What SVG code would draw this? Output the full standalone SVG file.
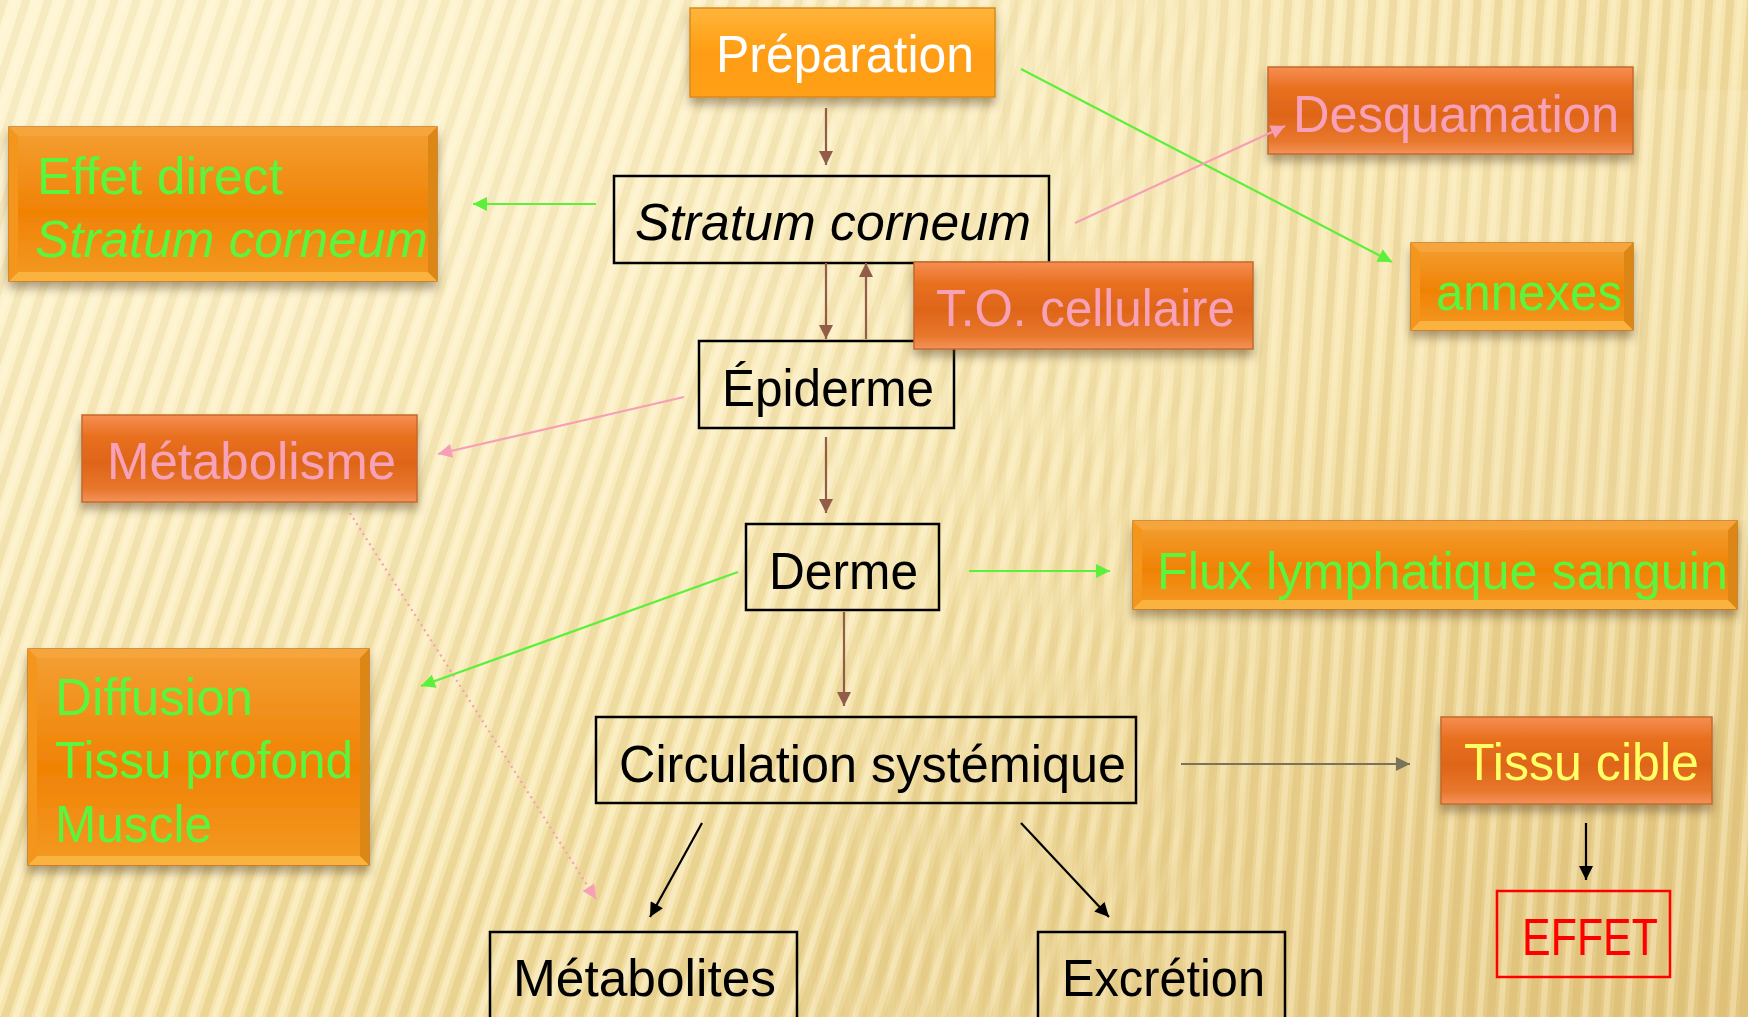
<svg xmlns="http://www.w3.org/2000/svg" width="1748" height="1017" viewBox="0 0 1748 1017">
<defs>
  <linearGradient id="bg" x1="0" y1="0" x2="1" y2="1">
    <stop offset="0" stop-color="#fdf2cb"/>
    <stop offset="0.55" stop-color="#f6e4ac"/>
    <stop offset="1" stop-color="#e3c680"/>
  </linearGradient>
  <pattern id="stripes" width="21" height="40" patternUnits="userSpaceOnUse" patternTransform="rotate(18)">
    <rect x="0" y="0" width="8" height="40" fill="#d8bb6c" opacity="0.34"/>
    <rect x="11" y="0" width="6" height="40" fill="#fff8dc" opacity="0.45"/>
  </pattern>
  <pattern id="stripesV" width="21" height="40" patternUnits="userSpaceOnUse" patternTransform="rotate(4)">
    <rect x="0" y="0" width="8" height="40" fill="#cfb060" opacity="0.28"/>
    <rect x="11" y="0" width="6" height="40" fill="#fff6d6" opacity="0.35"/>
  </pattern>
  <linearGradient id="fadeR" x1="0" y1="0" x2="1" y2="0">
    <stop offset="0" stop-color="#fff" stop-opacity="1"/>
    <stop offset="0.45" stop-color="#fff" stop-opacity="1"/>
    <stop offset="0.75" stop-color="#fff" stop-opacity="0"/>
  </linearGradient>
  <linearGradient id="fadeL" x1="0" y1="0" x2="1" y2="0">
    <stop offset="0.4" stop-color="#fff" stop-opacity="0"/>
    <stop offset="0.75" stop-color="#fff" stop-opacity="1"/>
  </linearGradient>
  <mask id="mL"><rect width="1748" height="1017" fill="url(#fadeR)"/></mask>
  <mask id="mR"><rect width="1748" height="1017" fill="url(#fadeL)"/></mask>
  <radialGradient id="glow" cx="0.15" cy="0.1" r="0.8">
    <stop offset="0" stop-color="#fff8dc" stop-opacity="0.55"/>
    <stop offset="1" stop-color="#fff8dc" stop-opacity="0"/>
  </radialGradient>

  <linearGradient id="gAin" x1="0" y1="0" x2="0" y2="1">
    <stop offset="0" stop-color="#f3a035"/>
    <stop offset="0.55" stop-color="#f08204"/>
    <stop offset="1" stop-color="#f39a24"/>
  </linearGradient>
  <linearGradient id="gP" x1="0" y1="0" x2="0" y2="1">
    <stop offset="0" stop-color="#ffb53c"/>
    <stop offset="0.5" stop-color="#ff9d12"/>
    <stop offset="1" stop-color="#ffa01a"/>
  </linearGradient>
  <linearGradient id="gB" x1="0" y1="0" x2="0" y2="1">
    <stop offset="0" stop-color="#f68e52"/>
    <stop offset="0.25" stop-color="#e8701f"/>
    <stop offset="0.55" stop-color="#de6518"/>
    <stop offset="0.85" stop-color="#e8772d"/>
    <stop offset="1" stop-color="#f4935a"/>
  </linearGradient>
  <filter id="sh" x="-10%" y="-20%" width="120%" height="150%">
    <feDropShadow dx="0" dy="7" stdDeviation="5" flood-color="#5a4020" flood-opacity="0.45"/>
  </filter>

  <marker id="aBrown" viewBox="0 0 10 10" refX="10" refY="5" markerWidth="16" markerHeight="14" markerUnits="userSpaceOnUse" orient="auto"><path d="M0,0 L10,5 L0,10 z" fill="#915c48"/></marker>
  <marker id="aGreen" viewBox="0 0 10 10" refX="10" refY="5" markerWidth="16" markerHeight="14" markerUnits="userSpaceOnUse" orient="auto"><path d="M0,0 L10,5 L0,10 z" fill="#5cf03a"/></marker>
  <marker id="aPink" viewBox="0 0 10 10" refX="10" refY="5" markerWidth="16" markerHeight="14" markerUnits="userSpaceOnUse" orient="auto"><path d="M0,0 L10,5 L0,10 z" fill="#f79fb6"/></marker>
  <marker id="aGray" viewBox="0 0 10 10" refX="10" refY="5" markerWidth="16" markerHeight="14" markerUnits="userSpaceOnUse" orient="auto"><path d="M0,0 L10,5 L0,10 z" fill="#7a735c"/></marker>
  <marker id="aBlack" viewBox="0 0 10 10" refX="10" refY="5" markerWidth="16" markerHeight="14" markerUnits="userSpaceOnUse" orient="auto"><path d="M0,0 L10,5 L0,10 z" fill="#000"/></marker>
</defs>
<style>
  text { font-family: "Liberation Sans", Arial, sans-serif; font-size: 52px; }
  .w { fill: #ffffff; }
  .g { fill: #5cf53e; }
  .p { fill: #f8a2ba; }
  .y { fill: #ffff66; }
  .k { fill: #000000; }
  .r { fill: #ff0000; }
  .it { font-style: italic; }
  .bx { fill: none; stroke: #000; stroke-width: 2.5; }
  .bA { fill: url(#gAin); stroke: #c7771a; stroke-width: 1.5; }
  .bt { fill: #f6a53e; }
  .bb { fill: #fbb340; }
  .bl { fill: #f5961e; }
  .br { fill: #dc8614; }
  .bB { fill: url(#gB); stroke: #c46a2a; stroke-width: 1.5; }
  .cn { fill: none; stroke-width: 2.2; }
</style>

<!-- background -->
<rect width="1748" height="1017" fill="url(#bg)"/>
<rect width="1748" height="1017" fill="url(#stripes)" mask="url(#mL)"/>
<rect width="1748" height="1017" fill="url(#stripesV)" mask="url(#mR)"/>
<rect width="1748" height="1017" fill="url(#glow)"/>
<rect x="1400" y="90" width="348" height="430" fill="#fff5d0" opacity="0.18"/>

<!-- nodes -->
<g id="preparation" filter="url(#sh)">
  <rect x="690" y="8" width="305" height="89" fill="url(#gP)" stroke="#d98c1a" stroke-width="1.5"/>
  <text class="w" x="716" y="72" textLength="258" lengthAdjust="spacingAndGlyphs">Préparation</text>
</g>
<g id="stratum-corneum">
  <rect class="bx" x="614" y="176" width="435" height="87"/>
  <text class="k it" x="635" y="240" textLength="396" lengthAdjust="spacingAndGlyphs">Stratum corneum</text>
</g>
<g id="desquamation" filter="url(#sh)">
  <rect class="bB" x="1268" y="67" width="365" height="87"/>
  <text class="p" x="1293" y="132" textLength="326" lengthAdjust="spacingAndGlyphs">Desquamation</text>
</g>
<g id="effet-direct" filter="url(#sh)">
  <rect class="bA" x="9" y="127" width="428" height="154"/>
  <polygon class="bt" points="9,127 437,127 428,136 18,136"/>
  <polygon class="bb" points="9,281 437,281 428,272 18,272"/>
  <polygon class="bl" points="9,127 18,136 18,272 9,281"/>
  <polygon class="br" points="437,127 428,136 428,272 437,281"/>
  <text class="g" x="37" y="194" textLength="246" lengthAdjust="spacingAndGlyphs">Effet direct</text>
  <text class="g it" x="35" y="257" textLength="393" lengthAdjust="spacingAndGlyphs">Stratum corneum</text>
</g>
<g id="annexes" filter="url(#sh)">
  <rect class="bA" x="1411" y="243" width="222" height="87"/>
  <polygon class="bt" points="1411,243 1633,243 1624,252 1420,252"/>
  <polygon class="bb" points="1411,330 1633,330 1624,321 1420,321"/>
  <polygon class="bl" points="1411,243 1420,252 1420,321 1411,330"/>
  <polygon class="br" points="1633,243 1624,252 1624,321 1633,330"/>
  <text class="g" x="1436" y="310" textLength="186" lengthAdjust="spacingAndGlyphs">annexes</text>
</g>
<g id="epiderme">
  <rect class="bx" x="699" y="341" width="255" height="87"/>
  <text class="k" x="722" y="406" textLength="212" lengthAdjust="spacingAndGlyphs">Épiderme</text>
</g>
<g id="to-cellulaire" filter="url(#sh)">
  <rect class="bB" x="914" y="262" width="339" height="87"/>
  <text class="p" x="936" y="326" textLength="299" lengthAdjust="spacingAndGlyphs">T.O. cellulaire</text>
</g>
<g id="metabolisme" filter="url(#sh)">
  <rect class="bB" x="82" y="415" width="335" height="87"/>
  <text class="p" x="107" y="479" textLength="289" lengthAdjust="spacingAndGlyphs">Métabolisme</text>
</g>
<g id="derme">
  <rect class="bx" x="746" y="524" width="193" height="86"/>
  <text class="k" x="769" y="589" textLength="149" lengthAdjust="spacingAndGlyphs">Derme</text>
</g>
<g id="flux" filter="url(#sh)">
  <rect class="bA" x="1133" y="521" width="604" height="88"/>
  <polygon class="bt" points="1133,521 1737,521 1728,530 1142,530"/>
  <polygon class="bb" points="1133,609 1737,609 1728,600 1142,600"/>
  <polygon class="bl" points="1133,521 1142,530 1142,600 1133,609"/>
  <polygon class="br" points="1737,521 1728,530 1728,600 1737,609"/>
  <text class="g" x="1157" y="589" textLength="571" lengthAdjust="spacingAndGlyphs">Flux lymphatique sanguin</text>
</g>
<g id="diffusion" filter="url(#sh)">
  <rect class="bA" x="28" y="649" width="341" height="216"/>
  <polygon class="bt" points="28,649 369,649 360,658 37,658"/>
  <polygon class="bb" points="28,865 369,865 360,856 37,856"/>
  <polygon class="bl" points="28,649 37,658 37,856 28,865"/>
  <polygon class="br" points="369,649 360,658 360,856 369,865"/>
  <text class="g" x="55" y="715" textLength="198" lengthAdjust="spacingAndGlyphs">Diffusion</text>
  <text class="g" x="55" y="778" textLength="298" lengthAdjust="spacingAndGlyphs">Tissu profond</text>
  <text class="g" x="55" y="842" textLength="157" lengthAdjust="spacingAndGlyphs">Muscle</text>
</g>
<g id="circulation">
  <rect class="bx" x="596" y="717" width="540" height="86"/>
  <text class="k" x="619" y="782" textLength="507" lengthAdjust="spacingAndGlyphs">Circulation systémique</text>
</g>
<g id="tissu-cible" filter="url(#sh)">
  <rect class="bB" x="1441" y="717" width="271" height="87"/>
  <text class="y" x="1464" y="780" textLength="235" lengthAdjust="spacingAndGlyphs">Tissu cible</text>
</g>
<g id="effet">
  <rect x="1497" y="891" width="173" height="86" fill="none" stroke="#ff0000" stroke-width="2.5"/>
  <text class="r" x="1522" y="955" textLength="136" lengthAdjust="spacingAndGlyphs">EFFET</text>
</g>
<g id="metabolites">
  <rect class="bx" x="490" y="932" width="307" height="100"/>
  <text class="k" x="513" y="996" textLength="263" lengthAdjust="spacingAndGlyphs">Métabolites</text>
</g>
<g id="excretion">
  <rect class="bx" x="1038" y="932" width="247" height="100"/>
  <text class="k" x="1062" y="996" textLength="203" lengthAdjust="spacingAndGlyphs">Excrétion</text>
</g>

<!-- connectors -->
<g id="connectors">
  <line class="cn" x1="826" y1="108" x2="826" y2="165" stroke="#915c48" marker-end="url(#aBrown)"/>
  <line class="cn" x1="826" y1="263" x2="826" y2="339" stroke="#915c48" marker-end="url(#aBrown)"/>
  <line class="cn" x1="866" y1="339" x2="866" y2="263" stroke="#915c48" marker-end="url(#aBrown)"/>
  <line class="cn" x1="826" y1="437" x2="826" y2="513" stroke="#915c48" marker-end="url(#aBrown)"/>
  <line class="cn" x1="844" y1="612" x2="844" y2="706" stroke="#915c48" marker-end="url(#aBrown)"/>
  <line class="cn" x1="1021" y1="69" x2="1392" y2="262" stroke="#5cf03a" marker-end="url(#aGreen)"/>
  <line class="cn" x1="1075" y1="223" x2="1285" y2="126" stroke="#f79fb6" marker-end="url(#aPink)"/>
  <line class="cn" x1="596" y1="204" x2="473" y2="204" stroke="#5cf03a" marker-end="url(#aGreen)"/>
  <line class="cn" x1="684" y1="397" x2="438" y2="454" stroke="#f79fb6" marker-end="url(#aPink)"/>
  <line class="cn" x1="969" y1="571" x2="1110" y2="571" stroke="#5cf03a" marker-end="url(#aGreen)"/>
  <line class="cn" x1="738" y1="572" x2="421" y2="686" stroke="#5cf03a" marker-end="url(#aGreen)"/>
  <line class="cn" x1="350" y1="513" x2="596" y2="899" stroke="#f79fb6" stroke-dasharray="2,4" marker-end="url(#aPink)"/>
  <line class="cn" x1="1181" y1="764" x2="1410" y2="764" stroke="#7a735c" marker-end="url(#aGray)"/>
  <line class="cn" x1="702" y1="823" x2="650" y2="917" stroke="#000" marker-end="url(#aBlack)"/>
  <line class="cn" x1="1021" y1="823" x2="1109" y2="917" stroke="#000" marker-end="url(#aBlack)"/>
  <line class="cn" x1="1586" y1="823" x2="1586" y2="880" stroke="#000" marker-end="url(#aBlack)"/>
</g>
</svg>
